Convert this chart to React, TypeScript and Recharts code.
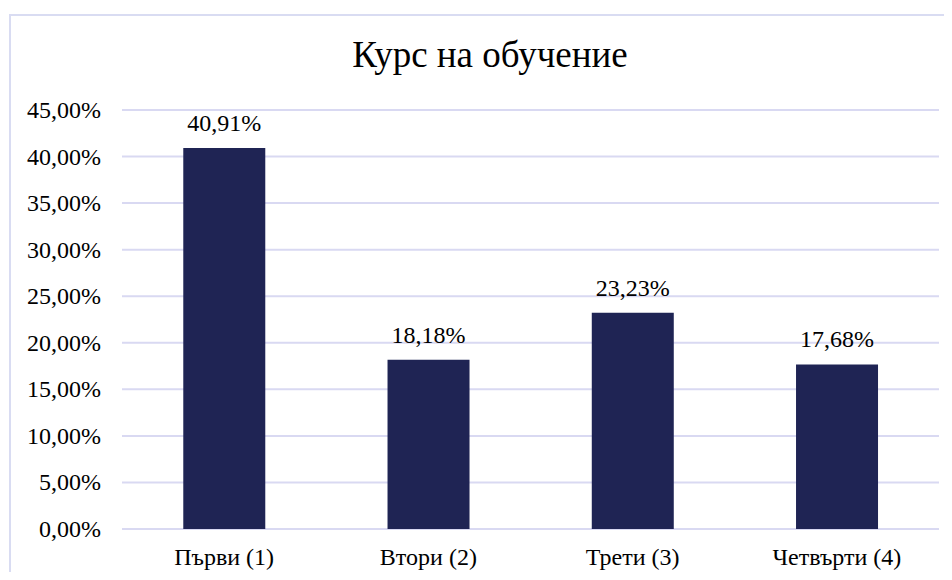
import { Bar, BarChart, CartesianGrid, LabelList, XAxis, YAxis } from "recharts"

const courses = ["Първи (1)", "Втори (2)", "Трети (3)", "Четвърти (4)"]
const shares = [40.91, 18.18, 23.23, 17.68]
const yTicks = [0, 5, 10, 15, 20, 25, 30, 35, 40, 45]

const FONT = "'Liberation Serif', 'Times New Roman', serif"
const textStyle = { fontFamily: FONT, fontSize: 24, fill: "#000" }

const pct = (v: number) => v.toFixed(2).replace(".", ",") + "%"

function XTick({ x, y, payload }: any) {
  return (
    <text x={x} y={y} dy={20} textAnchor="middle" style={textStyle}>
      {payload.value}
    </text>
  )
}

function YTick({ x, y, payload }: any) {
  return (
    <text x={x} y={y} dy={8} textAnchor="end" style={textStyle}>
      {pct(payload.value)}
    </text>
  )
}

function TopLabel({ x, y, width, value }: any) {
  return (
    <text x={x + width / 2} y={y - 17} textAnchor="middle" style={textStyle}>
      {pct(Number(value))}
    </text>
  )
}

export default function App() {
  const data = courses.map((course, i) => ({ course, share: shares[i] }))

  return (
    <div style={{ width: 936, height: 564, overflow: "hidden", fontFamily: FONT }}>
      <div
        style={{
          position: "relative",
          marginLeft: 1,
          marginTop: 6,
          width: 980,
          height: 600,
          borderTop: "2px solid #D9DCF2",
          borderLeft: "2px solid #D9DCF2",
          background: "#fff",
        }}
      >
        <div
          style={{
            position: "absolute",
            left: 0,
            width: 958,
            top: 19,
            textAlign: "center",
            fontSize: 37,
            lineHeight: "40px",
            color: "#000",
          }}
        >
          Курс на обучение
        </div>
        <BarChart
          width={940}
          height={560}
          data={data}
          margin={{ top: 94, right: 12, bottom: 17, left: 0 }}
          barCategoryGap="30%"
          style={{ fontFamily: FONT }}
        >
          <CartesianGrid vertical={false} stroke="#D9D9F2" strokeWidth={2} />
          <XAxis
            dataKey="course"
            axisLine={false}
            tickLine={false}
            tickMargin={10}
            height={30}
            tick={<XTick />}
          />
          <YAxis
            domain={[0, 45]}
            ticks={yTicks}
            axisLine={false}
            tickLine={false}
            tickMargin={15}
            width={111}
            tick={<YTick />}
          />
          <Bar dataKey="share" fill="#1F2454" isAnimationActive={false}>
            <LabelList dataKey="share" content={<TopLabel />} />
          </Bar>
        </BarChart>
      </div>
    </div>
  )
}
